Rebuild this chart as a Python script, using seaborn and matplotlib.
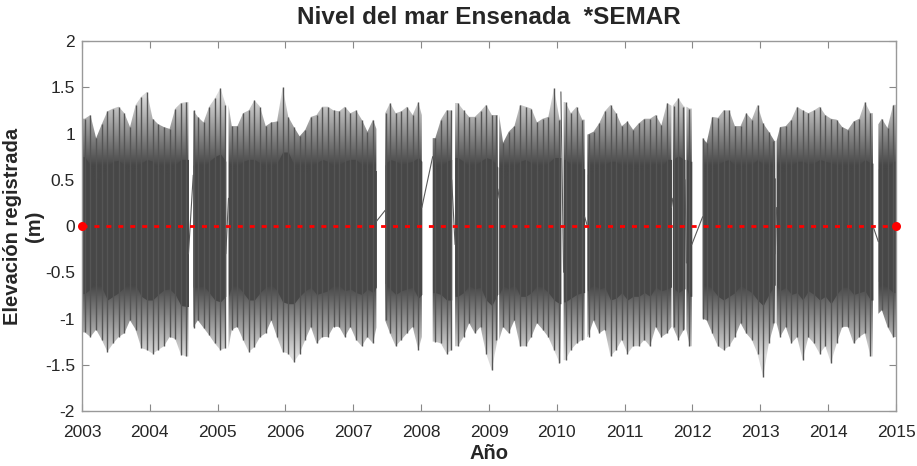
import numpy as np
import matplotlib
matplotlib.use("Agg")
import matplotlib.pyplot as plt
from matplotlib.ticker import FuncFormatter
from matplotlib.path import Path
from matplotlib.patches import PathPatch
import seaborn as sns

# Envolvente mensual (m), ene-2003 .. dic-2014
maximo = [
    1.16, 1.20, 0.95, 1.10, 1.24, 1.27, 1.29, 1.22, 1.07, 1.31, 1.40, 1.45,
    1.16, 1.10, 1.07, 1.05, 1.27, 1.33, 1.34, 1.25, 1.18, 1.12, 1.29, 1.38,
    1.49, 1.31, 1.08, 1.08, 1.22, 1.25, 1.36, 1.29, 1.08, 1.12, 1.13, 1.50,
    1.18, 1.07, 0.97, 1.04, 1.18, 1.20, 1.29, 1.29, 1.25, 1.24, 1.29, 1.22,
    1.25, 1.15, 1.02, 1.15, 1.05, 1.22, 1.33, 1.22, 1.24, 1.29, 1.20, 1.34,
    1.20, np.nan, 0.95, 1.15, 1.25, 1.25, 1.33, 1.25, 1.18, 1.18, 1.24, 1.31,
    1.20, 1.20, 0.90, 1.02, 1.08, 1.31, 1.29, 1.27, 1.12, 1.16, 1.18, 1.49,
    1.15, 1.34, 1.22, 1.29, 1.15, 0.99, 1.02, 1.11, 1.24, 1.31, 1.22, 1.08,
    1.13, 1.04, 1.11, 1.16, 1.16, 1.20, 1.09, 1.33, 1.30, 1.38, 1.29, 1.27,
    np.nan, 0.95, 0.90, 1.18, 1.17, 1.25, 1.25, 1.08, 1.08, 1.22, 1.15, 1.31,
    1.11, 1.02, 0.92, 1.07, 1.08, 1.15, 1.29, 1.25, 1.22, 1.25, 1.29, 1.20,
    1.16, 1.15, 1.07, 1.04, 1.13, 1.16, 1.34, 1.22, 1.10, 1.16, 1.06, 1.31,
]
minimo = [
    -1.15, -1.20, -1.12, -1.23, -1.36, -1.27, -1.20, -1.16, -1.02, -1.12, -1.32, -1.34,
    -1.38, -1.34, -1.30, -1.20, -1.22, -1.39, -1.41, -1.10, -1.02, -1.10, -1.18, -1.27,
    -1.34, -1.32, -1.12, -1.09, -1.23, -1.36, -1.31, -1.20, -1.16, -1.02, -1.20, -1.36,
    -1.38, -1.47, -1.38, -1.23, -1.09, -1.27, -1.20, -1.20, -1.09, -1.09, -1.20, -1.09,
    -1.23, -1.30, -1.20, -1.27, -1.10, -1.02, -1.16, -1.30, -1.23, -1.16, -1.09, -1.34,
    -1.20, np.nan, -1.25, -1.27, -1.38, -1.34, -1.30, -1.20, -1.05, -1.16, -1.09, -1.38,
    -1.56, -1.23, -1.09, -1.16, -1.02, -1.30, -1.30, -1.20, -1.05, -1.12, -1.20, -1.34,
    -1.48, -1.45, -1.34, -1.27, -1.23, -1.20, -1.02, -1.16, -1.12, -1.41, -1.34, -1.23,
    -1.38, -1.30, -1.30, -1.23, -1.30, -1.09, -1.20, -1.16, -1.09, -1.23, -1.12, -1.30,
    np.nan, -1.00, -1.02, -1.16, -1.30, -1.34, -1.30, -1.20, -1.05, -1.16, -1.23, -1.38,
    -1.63, -1.27, -1.05, -1.20, -1.09, -1.27, -1.20, -1.45, -1.20, -1.27, -1.38, -1.30,
    -1.48, -1.27, -1.09, -1.09, -1.27, -1.20, -1.16, -1.41, -0.95, -0.91, -1.09, -1.20,
]
# nucleo denso de pleamares / bajamares ordinarias
sup = [
    0.75, 0.65, 0.48, 0.55, 0.64, 0.70, 0.71, 0.65, 0.58, 0.62, 0.68, 0.72,
    0.70, 0.60, 0.56, 0.58, 0.66, 0.72, 0.72, 0.66, 0.62, 0.60, 0.70, 0.75,
    0.78, 0.70, 0.60, 0.62, 0.70, 0.72, 0.72, 0.68, 0.58, 0.62, 0.68, 0.80,
    0.80, 0.66, 0.52, 0.56, 0.64, 0.68, 0.72, 0.70, 0.64, 0.66, 0.70, 0.72,
    0.72, 0.66, 0.56, 0.60, 0.60, 0.66, 0.72, 0.70, 0.66, 0.68, 0.70, 0.74,
    0.70, np.nan, 0.58, 0.62, 0.70, 0.72, 0.74, 0.70, 0.62, 0.64, 0.70, 0.74,
    0.72, 0.64, 0.52, 0.56, 0.62, 0.70, 0.72, 0.68, 0.60, 0.62, 0.68, 0.74,
    0.74, 0.72, 0.66, 0.66, 0.62, 0.56, 0.60, 0.62, 0.66, 0.70, 0.70, 0.62,
    0.64, 0.58, 0.58, 0.62, 0.64, 0.68, 0.62, 0.72, 0.72, 0.76, 0.72, 0.70,
    np.nan, 0.52, 0.52, 0.62, 0.66, 0.70, 0.72, 0.64, 0.60, 0.66, 0.66, 0.72,
    0.66, 0.58, 0.52, 0.58, 0.60, 0.64, 0.70, 0.70, 0.66, 0.68, 0.72, 0.70,
    0.68, 0.64, 0.58, 0.56, 0.62, 0.66, 0.72, 0.68, 0.62, 0.62, 0.60, 0.70,
]
inf = [
    -0.73, -0.68, -0.55, -0.66, -0.80, -0.76, -0.72, -0.66, -0.58, -0.64, -0.76, -0.80,
    -0.80, -0.74, -0.69, -0.68, -0.74, -0.86, -0.87, -0.66, -0.66, -0.64, -0.72, -0.80,
    -0.82, -0.76, -0.64, -0.64, -0.72, -0.80, -0.80, -0.72, -0.66, -0.62, -0.70, -0.82,
    -0.84, -0.84, -0.76, -0.70, -0.66, -0.74, -0.72, -0.70, -0.64, -0.64, -0.70, -0.68,
    -0.72, -0.74, -0.68, -0.72, -0.66, -0.62, -0.68, -0.74, -0.70, -0.68, -0.66, -0.78,
    -0.74, np.nan, -0.72, -0.74, -0.80, -0.80, -0.76, -0.72, -0.64, -0.68, -0.66, -0.80,
    -0.86, -0.74, -0.64, -0.68, -0.62, -0.76, -0.76, -0.72, -0.64, -0.66, -0.72, -0.80,
    -0.84, -0.82, -0.78, -0.74, -0.72, -0.70, -0.62, -0.68, -0.66, -0.80, -0.78, -0.72,
    -0.80, -0.76, -0.76, -0.72, -0.76, -0.66, -0.70, -0.68, -0.66, -0.72, -0.68, -0.76,
    np.nan, -0.62, -0.62, -0.68, -0.76, -0.80, -0.76, -0.72, -0.64, -0.68, -0.72, -0.80,
    -0.86, -0.74, -0.64, -0.70, -0.66, -0.74, -0.72, -0.80, -0.70, -0.74, -0.80, -0.76,
    -0.84, -0.74, -0.66, -0.66, -0.74, -0.72, -0.70, -0.80, -0.60, -0.58, -0.66, -0.72,
]

# tramos con registro (anio decimal) y nivel al inicio / fin de cada tramo
tramo_ini = [2003.00, 2004.64, 2005.16, 2007.47, 2008.17, 2008.50, 2009.15,
             2010.10, 2010.45, 2011.71, 2011.91, 2012.15, 2013.24, 2014.74]
tramo_fin = [2004.57, 2005.12, 2007.34, 2008.01, 2008.45, 2009.13, 2010.06,
             2010.41, 2011.69, 2011.89, 2011.99, 2013.22, 2014.66, 2015.00]
nivel_ini = [0.0, 0.55, 0.3, 0.17, 0.75, -0.2, 0.4, -0.5, 0.0, 0.3, -0.4, 0.1, 0.2, -0.17]
nivel_fin = [-0.3, -0.3, 0.05, 0.2, 0.5, 0.3, 1.45, 0.1, 0.2, 0.5, -0.2, -0.3, 0.0, 0.0]

media = 0.0
anios = list(range(2003, 2016))

meses = 2003 + np.arange(len(maximo)) / 12.0
centros = meses + 1 / 24.0
maximo = np.array(maximo)
minimo = np.array(minimo)
sup = np.array(sup)
inf = np.array(inf)

sns.set_style("ticks")
plt.rcParams['font.family'] = ['Liberation Sans', 'DejaVu Sans']
plt.rcParams['axes.unicode_minus'] = False

fig = plt.figure(figsize=(9.17, 4.66), dpi=100)
ax = fig.add_axes([0.0894, 0.118, 0.8877, 0.794])

gris = '#474747'


def mes_de(t):
    return min(int(np.floor((t - 2003) * 12 + 1e-9)), len(meses) - 1)


# envolvente de picos con sombreado que se aclara hacia los extremos
trazos = []
for a, b in zip(tramo_ini, tramo_fin):
    xs = [a] + [c for c in centros if a < c < b] + [b]
    idx = [mes_de(x - 1e-6 if x == b else x) for x in xs]
    env = ax.fill_between(xs, minimo[idx], maximo[idx], color='none', lw=0)
    trazos.extend(env.get_paths())
    ax.fill_between(xs, inf[idx], sup[idx], color=gris, lw=0, zorder=2)

yy = np.linspace(-2, 2, 400)
t = np.clip((np.abs(yy) - 0.65) / 0.75, 0, 1)
tono = 0.28 + t * 0.58
im = ax.imshow(np.tile(tono[:, None], (1, 4)), extent=[anios[0], anios[-1], -2, 2],
               origin='lower', aspect='auto', cmap='gray', vmin=0, vmax=1,
               interpolation='bilinear', zorder=1)
clip = PathPatch(Path.make_compound_path(*trazos), transform=ax.transData,
                 facecolor='none', edgecolor='none')
ax.add_patch(clip)
im.set_clip_path(clip)

# picos mensuales (mareas vivas)
for i, m0 in enumerate(meses):
    m1 = m0 + 1 / 12.0
    mejor = None
    for a, b in zip(tramo_ini, tramo_fin):
        lo, hi = max(m0, a), min(m1, b)
        if hi - lo > 0.01 and (mejor is None or hi - lo > mejor[1] - mejor[0]):
            mejor = (lo, hi)
    if mejor is None or np.isnan(maximo[i]):
        continue
    xc = 0.5 * (mejor[0] + mejor[1])
    ax.vlines(xc, minimo[i], maximo[i], color='#555555', lw=1.0, zorder=3)

# uniones entre tramos
for k in range(len(tramo_ini) - 1):
    ax.plot([tramo_fin[k], tramo_ini[k + 1]], [nivel_fin[k], nivel_ini[k + 1]],
            color='#5a5a5a', lw=0.8, zorder=3)

# nivel medio
sns.lineplot(x=[anios[0], anios[-1]], y=[media, media], ax=ax, color='red',
             lw=2.0, linestyle='--', marker='o', markersize=6.5,
             markeredgewidth=0, zorder=4)
ax.lines[-1].set_dashes((1.8, 2.5))
ax.lines[-1].set_clip_on(False)

ax.set_xlim(anios[0], anios[-1])
ax.set_ylim(-2, 2)
ax.set_xticks(anios)
ax.set_yticks(np.arange(-2, 2.01, 0.5))
ax.yaxis.set_major_formatter(FuncFormatter(lambda v, p: '%g' % v))
ax.tick_params(direction='in', length=5, top=True, right=True,
               labelsize=12.5, color='#888888')
ax.tick_params(axis='x', pad=10)
ax.tick_params(axis='y', pad=5)
for sp in ax.spines.values():
    sp.set_color('#999999')
    sp.set_linewidth(1.0)

ax.set_title('Nivel del mar Ensenada  *SEMAR', fontsize=17.5, fontweight='bold', pad=12)
ax.set_xlabel('Año', fontsize=14.5, fontweight='bold', labelpad=3)
ax.set_ylabel('Elevación registrada\n(m)', fontsize=14.5, fontweight='bold')
ax.yaxis.set_label_coords(-0.047, 0.5)

fig.savefig('out.png', dpi=100)
